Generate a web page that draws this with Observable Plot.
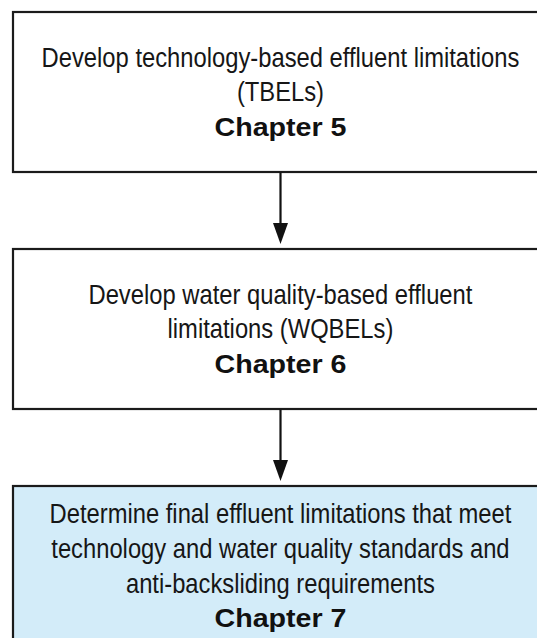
<!DOCTYPE html>
<html><head><meta charset="utf-8">
<script src="https://cdn.jsdelivr.net/npm/d3@7"></script>
<script src="https://cdn.jsdelivr.net/npm/@observablehq/plot@0.6"></script>
<style>html,body{margin:0;padding:0;background:#fff;overflow:hidden}</style>
</head><body><div id="chart"></div>
<script>
// ---- data ----
const stepLines = [
  ["Develop technology-based effluent limitations", "(TBELs)"],
  ["Develop water quality-based effluent", "limitations (WQBELs)"],
  ["Determine final effluent limitations that meet", "technology and water quality standards and", "anti-backsliding requirements"]
];
const chapters = ["Chapter 5", "Chapter 6", "Chapter 7"];
const stepFills = ["#ffffff", "#ffffff", "#d3ecf9"];

// ---- layout (in stage units) ----
const PX = 237;              // pixels per stage
const boxH = 160 / PX;
const lineH = 34.8 / PX;
const headLen = 21 / PX;
const headGap = 5.5 / PX;
const cx = 280;              // pixel centre of the column

const boxes = chapters.map((c, i) => ({stage: i, fill: stepFills[i]}));
const textRows = [];
stepLines.forEach((lines, i) => {
  const all = [...lines, chapters[i]];
  const n = all.length;
  all.forEach((t, j) => textRows.push({text: t, bold: j === n - 1, y: i + boxH / 2 + (j - (n - 1) / 2) * lineH}));
});
const arrows = chapters.slice(1).map((c, i) => ({from: i, to: i + 1}));

const downTri = {
  draw(ctx) {
    ctx.moveTo(-7.5, -10.5);
    ctx.lineTo(7.5, -10.5);
    ctx.lineTo(0, 10.5);
    ctx.closePath();
  }
};

const font = "'Liberation Sans', Arial, Helvetica, sans-serif";

const chart = Plot.plot({
  width: 537,
  height: 638,
  margin: 0,
  x: {domain: [-1, 1], range: [13, 547], axis: null},
  y: {domain: [-12 / PX, 626 / PX], range: [0, 638], axis: null},
  color: {type: "identity"},
  style: {background: "#fff", overflow: "hidden"},
  marks: [
    Plot.rect(boxes, {x1: () => -1, x2: () => 1, y1: d => d.stage, y2: d => d.stage + boxH, fill: d => d.fill, stroke: "#1b1b1b", strokeWidth: 2.2}),
    Plot.link(arrows, {x1: () => 0, x2: () => 0, y1: d => d.from + boxH, y2: d => d.to - headGap - headLen + 1 / PX, stroke: "#111", strokeWidth: 2.2}),
    Plot.dot(arrows, {x: () => 0, y: d => d.to - headGap - headLen / 2, symbol: downTri, fill: "#111", stroke: "none", r: 3}),
    Plot.text(textRows.filter(d => !d.bold), {x: () => 0, y: "y", text: "text", fontSize: 27.5, fontFamily: font, fill: "#161616", textAnchor: "middle"}),
    Plot.text(textRows.filter(d => d.bold), {x: () => 0, y: "y", text: "text", fontSize: 26.5, fontWeight: "bold", fontFamily: font, fill: "#111", textAnchor: "middle"})
  ]
});
document.getElementById("chart").appendChild(chart);

// condense the text horizontally around the column centre (the original uses a narrow typeface)
const textGroups = Array.from(chart.querySelectorAll('g[aria-label="text"]'));
function squeeze(g, refText, target) {
  if (!g) return;
  const ref = Array.from(g.querySelectorAll("text")).find(t => t.textContent === refText);
  if (!ref) return;
  const k = target / ref.getComputedTextLength();
  const prev = g.getAttribute("transform") || "";
  g.setAttribute("transform", `translate(${cx},0) scale(${k.toFixed(4)},1) translate(${-cx},0) ${prev}`);
}
squeeze(textGroups[0], stepLines[0][0], 478);
squeeze(textGroups[1], chapters[0], 132);
</script>
</body></html>
